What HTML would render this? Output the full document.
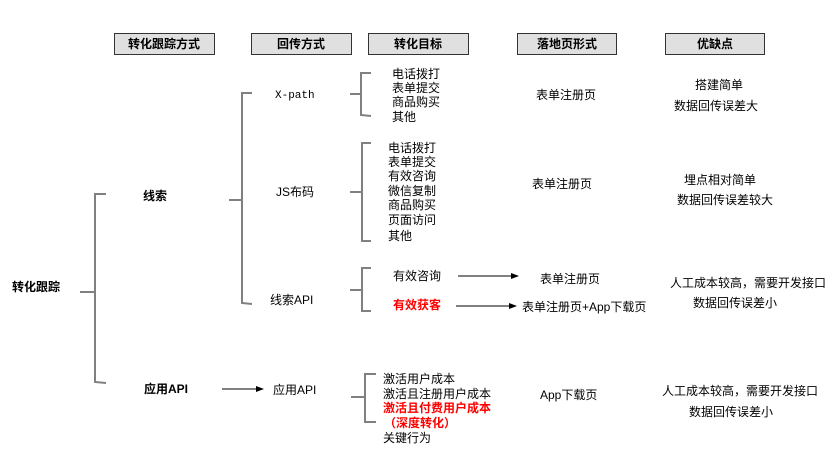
<!DOCTYPE html>
<html><head><meta charset="utf-8"><style>
html,body{margin:0;padding:0;background:#fff;}
svg{display:block}
text{font-family:"Liberation Sans","Noto Sans CJK SC","WenQuanYi Zen Hei",sans-serif;font-size:12px;fill:#000;dominant-baseline:central}
.b{font-weight:bold}
.r{fill:#f00;font-weight:bold}
.m{font-family:"Liberation Mono","Noto Sans CJK SC",monospace;font-size:11px}
.br{fill:none;stroke:#808080;stroke-width:2}
.hd{fill:#e0e0e0;stroke:#333;stroke-width:1}
</style></head><body>
<svg width="833" height="450" viewBox="0 0 833 450" xmlns="http://www.w3.org/2000/svg">
<defs><marker id="a" markerWidth="8" markerHeight="6" refX="7" refY="3" orient="auto"><path d="M0,0 L8,3 L0,6z" fill="#000"/></marker></defs>
<rect class="hd" x="114.5" y="33.5" width="100" height="21"/>
<rect class="hd" x="251.5" y="33.5" width="100" height="21"/>
<rect class="hd" x="368.5" y="33.5" width="100" height="21"/>
<rect class="hd" x="517.5" y="33.5" width="99" height="21"/>
<rect class="hd" x="665.5" y="33.5" width="99" height="21"/>
<g text-anchor="middle" class="b">
<text x="164" y="44" class="b">转化跟踪方式</text>
<text x="301" y="44" class="b">回传方式</text>
<text x="418" y="44" class="b">转化目标</text>
<text x="567" y="44" class="b">落地页形式</text>
<text x="715" y="44" class="b">优缺点</text>
</g>
<!-- braces -->
<path class="br" d="M106,194 L95,194 L95,382 L106,383 M80,292 L95,292"/>
<path class="br" d="M252,93 L242,93 L242,303 L252,304 M229,200 L242,200"/>
<path class="br" d="M371,73 L361,73 L361,115 L371,116 M350,94 L361,94"/>
<path class="br" d="M371,143 L362,143 L362,241 L371,241 M350,192 L362,192"/>
<path class="br" d="M371,268 L362,268 L362,311 L371,311 M350,290 L362,290"/>
<path class="br" d="M376,374 L365,374 L365,422 L376,422 M351,397 L365,397"/>
<!-- arrows -->
<line x1="458" y1="276" x2="518" y2="276" stroke="#000" marker-end="url(#a)"/>
<line x1="456" y1="306" x2="516" y2="306" stroke="#000" marker-end="url(#a)"/>
<line x1="222" y1="389" x2="263" y2="389" stroke="#000" marker-end="url(#a)"/>
<text x="12" y="287" class="b">转化跟踪</text>
<text x="143" y="196" class="b">线索</text>
<text x="144" y="389" class="b">应用API</text>
<text x="275" y="96" class="m">X-path</text>
<text x="276" y="192">JS布码</text>
<text x="270" y="300">线索API</text>
<text x="273" y="390">应用API</text>
<text x="392" y="74">电话拨打</text>
<text x="392" y="88">表单提交</text>
<text x="392" y="102">商品购买</text>
<text x="392" y="117">其他</text>
<text x="388" y="148">电话拨打</text>
<text x="388" y="162">表单提交</text>
<text x="388" y="176">有效咨询</text>
<text x="388" y="191">微信复制</text>
<text x="388" y="205">商品购买</text>
<text x="388" y="220">页面访问</text>
<text x="388" y="236">其他</text>
<text x="393" y="276">有效咨询</text>
<text x="393" y="305" class="r">有效获客</text>
<text x="383" y="379">激活用户成本</text>
<text x="383" y="394">激活且注册用户成本</text>
<text x="383" y="408" class="r">激活且付费用户成本</text>
<text x="384" y="423" class="r">（深度转化）</text>
<text x="383" y="438">关键行为</text>
<text x="536" y="95">表单注册页</text>
<text x="532" y="184">表单注册页</text>
<text x="540" y="279">表单注册页</text>
<text x="522" y="307">表单注册页+App下载页</text>
<text x="540" y="395">App下载页</text>
<g text-anchor="middle">
<text x="719" y="85">搭建简单</text>
<text x="716" y="106">数据回传误差大</text>
<text x="720" y="180">埋点相对简单</text>
<text x="725" y="200">数据回传误差较大</text>
</g>
<text x="670" y="283">人工成本较高，需要开发接口</text>
<text x="693" y="303">数据回传误差小</text>
<text x="662" y="391">人工成本较高，需要开发接口</text>
<text x="689" y="412">数据回传误差小</text>
</svg>
</body></html>
